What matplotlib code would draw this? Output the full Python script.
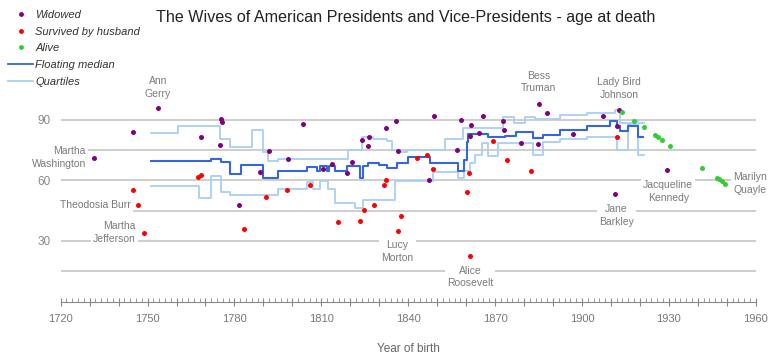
import numpy as np
import matplotlib
matplotlib.use("Agg")
from matplotlib import pyplot as plt
from matplotlib.ticker import MultipleLocator
from matplotlib.lines import Line2D

plt.rcParams['font.family'] = ['Liberation Sans', 'DejaVu Sans']

# ── Data (year of birth, age at death) ───────────────────────────────────────
widowed_year = [1731.5, 1744.9, 1753.6, 1768.3, 1775.0, 1775.2, 1775.6, 1781.6, 1788.7, 1792.0,
                1798.5, 1803.6, 1810.7, 1813.7, 1818.9, 1820.6, 1824.0, 1826.0, 1826.6, 1832.2,
                1835.7, 1836.5, 1847.3, 1849.0, 1856.7, 1858.2, 1861.3, 1861.6, 1864.4, 1865.8,
                1872.6, 1873.2, 1878.8, 1884.7, 1885.1, 1888.0, 1896.8, 1907.3, 1911.5, 1912.0,
                1912.8, 1929.3]
widowed_age = [71.2, 84.1, 95.6, 81.3, 77.3, 90.5, 88.7, 47.6, 64.0, 74.7,
               70.7, 88.0, 65.4, 67.9, 63.6, 69.2, 80.1, 77.0, 81.3, 86.0,
               89.5, 74.7, 60.0, 92.0, 75.0, 89.9, 82.1, 87.2, 83.4, 91.8,
               89.4, 84.8, 78.6, 78.1, 97.9, 93.2, 83.1, 92.0, 53.1, 86.7,
               94.6, 65.1]

survived_year = [1744.9, 1746.7, 1748.8, 1767.3, 1768.4, 1783.2, 1790.8, 1798.1, 1806.0, 1815.8,
                 1823.3, 1824.8, 1828.3, 1831.5, 1832.4, 1836.5, 1837.5, 1843.0, 1846.4, 1848.4,
                 1860.2, 1861.0, 1861.4, 1869.4, 1874.1, 1882.4, 1912.1]
survived_age = [55.3, 47.9, 34.1, 61.6, 62.5, 36.0, 51.9, 55.2, 57.8, 39.5,
                40.0, 45.5, 47.8, 57.8, 60.3, 35.0, 42.5, 71.2, 72.4, 65.4,
                54.2, 63.6, 22.7, 79.3, 69.9, 64.8, 81.4]

alive_year = [1913.9, 1918.1, 1921.6, 1925.2, 1926.3, 1927.6, 1930.4, 1941.3, 1946.5, 1947.3,
              1948.2, 1949.5]
alive_age = [93.6, 89.5, 86.2, 82.4, 81.4, 80.1, 77.1, 66.2, 61.1, 60.5, 59.7, 58.2]

# floating median / quartiles, step values (post)
med_x = [1751.2, 1771.9, 1775.4, 1778.4, 1782.3, 1789.8, 1795.1, 1804.9, 1808.4, 1809.5,
         1811.9, 1812.6, 1814.7, 1818.8, 1823.3, 1824.5, 1826.2, 1829.9, 1832.6, 1836.0,
         1840.0, 1847.5, 1857.3, 1859.3, 1860.2, 1860.7, 1867.6, 1873.6, 1877.1, 1883.2,
         1886.6, 1892.4, 1901.6, 1909.6, 1912.0, 1913.1, 1916.0, 1919.5, 1921.2]
med_y = [69.7, 70.5, 69.2, 63.1, 67.4, 61.0, 64.8, 66.7, 64.6, 66.9,
         64.6, 66.9, 64.6, 66.9, 61.0, 66.9, 68.7, 67.7, 65.9, 68.7,
         71.3, 68.7, 64.8, 70.0, 79.1, 82.8, 81.4, 81.9, 83.9, 80.8,
         82.4, 84.9, 87.0, 89.4, 87.0, 84.4, 86.7, 81.3, 81.3]

q3_x = [1751.2, 1760.6, 1775.0, 1778.5, 1786.0, 1789.8, 1791.5, 1795.1, 1819.3, 1823.9,
        1827.9, 1832.6, 1834.3, 1836.6, 1839.5, 1852.7, 1859.0, 1872.8, 1876.6, 1880.3,
        1883.8, 1892.4, 1901.7, 1911.4, 1913.1, 1917.7, 1919.4, 1921.4]
q3_y = [83.6, 86.9, 80.3, 76.6, 84.9, 73.9, 69.6, 70.4, 75.0, 81.3,
        80.4, 79.6, 75.0, 74.2, 75.0, 80.3, 86.0, 91.2, 88.6, 91.1,
        90.4, 92.5, 93.5, 95.0, 88.5, 89.9, 88.2, 88.2]

q1_x = [1751.2, 1767.9, 1771.8, 1775.2, 1778.5, 1795.1, 1804.9, 1807.2, 1809.5, 1812.2,
        1814.7, 1821.6, 1824.5, 1835.3, 1848.7, 1857.3, 1859.4, 1861.3, 1863.1, 1865.4,
        1867.7, 1870.9, 1883.2, 1886.4, 1892.4, 1901.7, 1912.0, 1916.0, 1919.5, 1921.4]
q1_y = [57.2, 51.2, 62.0, 54.4, 52.9, 55.5, 59.0, 55.5, 59.5, 55.5,
        48.6, 46.1, 50.4, 59.8, 63.9, 61.0, 64.5, 68.4, 72.5, 78.6,
        72.0, 78.4, 72.5, 78.8, 80.3, 81.6, 75.0, 88.0, 72.5, 72.5]

# annotations: text, x, y, alignment
notes = [
    ("Ann\nGerry", 1753.6, 106.0, 'center'),
    ("Martha\nWashington", 1728.7, 71.3, 'right'),
    ("Theodosia Burr", 1744.3, 47.8, 'right'),
    ("Martha\nJefferson", 1746.0, 34.2, 'right'),
    ("Lucy\nMorton", 1836.3, 24.9, 'center'),
    ("Alice\nRoosevelt", 1861.4, 12.1, 'center'),
    ("Bess\nTruman", 1885.0, 108.7, 'center'),
    ("Lady Bird\nJohnson", 1912.9, 105.5, 'center'),
    ("Jane\nBarkley", 1911.8, 42.7, 'center'),
    ("Jacqueline\nKennedy", 1929.8, 54.5, 'center'),
    ("Marilyn\nQuayle", 1952.3, 58.3, 'left'),
]

# ── Plot ──────────────────────────────────────────────────────────────────────
fig = plt.figure(figsize=(7.8, 3.63), dpi=100)
ax = fig.add_axes([60.7 / 780, 61.5 / 363, 695 / 780, 202 / 363])

for g in [15, 30, 45, 60, 75, 90]:
    ax.axhline(g, color='#c6c6c6', linewidth=1.2, zorder=1)

ax.step(q3_x, q3_y, where='post', color='#a8cff5', linewidth=1.3, zorder=2)
ax.step(q1_x, q1_y, where='post', color='#a8cff5', linewidth=1.3, zorder=2)
ax.step(med_x, med_y, where='post', color='#3366e0', linewidth=1.5, zorder=3)

ax.plot(widowed_year, widowed_age, 'o', color='#800080', markersize=3.6, mew=0, zorder=5)
ax.plot(survived_year, survived_age, 'o', color='#ff0000', markersize=3.6, mew=0, zorder=5)
ax.plot(alive_year, alive_age, 'o', color='#33cc33', markersize=3.6, mew=0, zorder=5)

for txt, x, y, ha in notes:
    ax.text(x, y, txt, ha=ha, va='center', multialignment=ha, fontsize=7.5, color='#7a7a7a',
            linespacing=1.35, zorder=4,
            bbox=dict(facecolor='white', edgecolor='none', pad=1.5))

ax.set_xlim(1720, 1960)
ax.set_ylim(0, 100)
ax.xaxis.set_minor_locator(MultipleLocator(2))
ax.set_xticks(np.arange(1720, 1961, 10))
ax.set_xticklabels([str(v) if (v - 1720) % 30 == 0 else '' for v in range(1720, 1961, 10)])
ax.set_yticks([15, 30, 45, 60, 75, 90])
ax.set_yticklabels(['', '30', '', '60', '', '90'])
ax.tick_params(axis='x', which='major', direction='inout', length=6, width=0.8, color='#888888',
               labelsize=8, labelcolor='#777777', pad=6)
ax.tick_params(axis='x', which='minor', direction='in', length=3, width=0.6, color='#888888')
ax.tick_params(axis='y', length=0, labelsize=8.5, labelcolor='#888888', pad=7)
for side in ['top', 'right', 'left']:
    ax.spines[side].set_visible(False)
ax.spines['bottom'].set_color('#888888')
ax.spines['bottom'].set_linewidth(0.8)

ax.set_xlabel('Year of birth', fontsize=8.5, color='#666666', labelpad=14)
fig.text(0.52, 0.952, 'The Wives of American Presidents and Vice-Presidents - age at death',
         ha='center', va='center', fontsize=11.6, color='#222222')

# legend
handles = [
    Line2D([], [], linestyle='none', marker='o', color='#800080', markersize=3.5, mew=0),
    Line2D([], [], linestyle='none', marker='o', color='#ff0000', markersize=3.5, mew=0),
    Line2D([], [], linestyle='none', marker='o', color='#33cc33', markersize=3.5, mew=0),
    Line2D([], [], color='#3366e0', linewidth=1.3),
    Line2D([], [], color='#a8cff5', linewidth=1.3),
]
labels = ['Widowed', 'Survived by husband', 'Alive', 'Floating median', 'Quartiles']
fig.legend(handles, labels, loc='upper left', bbox_to_anchor=(8 / 780, 1 - 10 / 363),
           frameon=False, borderpad=0, borderaxespad=0, handlelength=2.25, handletextpad=0.2,
           labelspacing=0.6, prop={'style': 'italic', 'size': 8}, labelcolor='#333333')

plt.savefig('out.png', dpi=100)
